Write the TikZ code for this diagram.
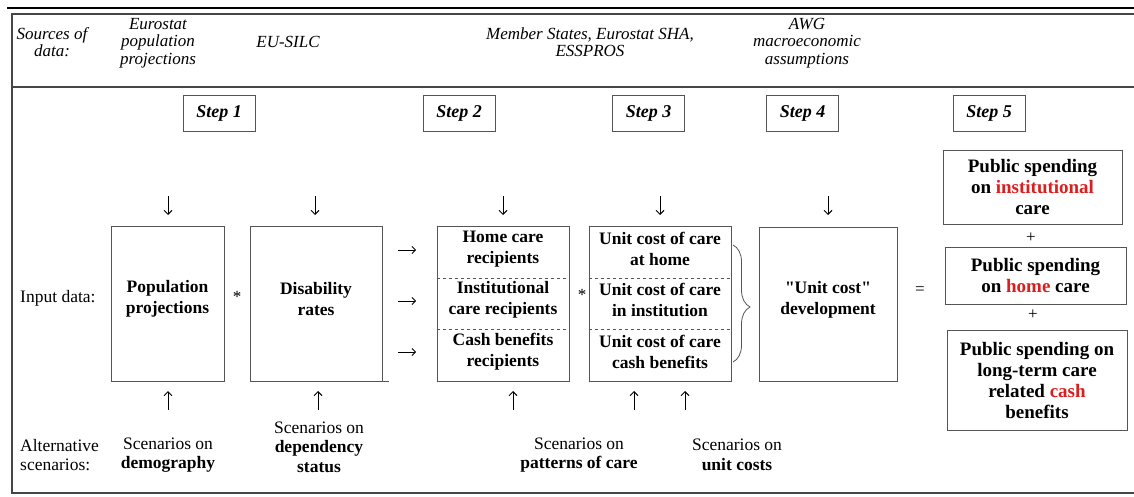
\documentclass[tikz,border=0pt]{standalone}
\usepackage{fontspec}
\setmainfont{Liberation Serif}[Ligatures=TeXOff]
\usetikzlibrary{arrows.meta,decorations.pathreplacing,calc}
\definecolor{boxgray}{RGB}{85,85,85}
\definecolor{framegray}{RGB}{70,70,70}
\definecolor{hred}{RGB}{220,30,30}
\begin{document}
\begin{tikzpicture}[x=1pt,y=-1pt,
 lbl/.style={font=\fontsize{17.5}{19.5}\selectfont, align=center, inner sep=0},
 hdr/.style={font=\fontsize{17}{17.5}\selectfont\itshape, align=center, inner sep=0},
 box/.style={draw=boxgray, line width=0.9pt, inner sep=0},
 bold/.style={font=\fontsize{17.5}{21}\selectfont\bfseries, align=center, inner sep=0},
 stepbox/.style={draw=boxgray, line width=0.9pt, minimum width=72pt, minimum height=36pt, inner sep=0, font=\fontsize{18}{20}\selectfont\bfseries\itshape},
 arr/.style={line width=0.9pt, -{Straight Barb[length=4pt,width=8pt]}},
 rarr/.style={line width=0.8pt, -{Straight Barb[length=3.5pt,width=7pt]}},
 outbox/.style={draw=boxgray, line width=0.9pt, inner sep=0, align=center, font=\fontsize{19}{21}\selectfont\bfseries},
 sym/.style={font=\fontsize{17}{18}\selectfont, inner sep=0}
]
\useasboundingbox (0,0) rectangle (1134,497);
% frame
\draw[black, line width=1.5pt] (7,8) -- (1134,8);
\draw[framegray, line width=1.2pt] (1134,14) -- (12,14) -- (12,493) -- (1134,493);
\draw[framegray, line width=1.2pt] (12,87) -- (1134,87);

% header
\node[hdr] (hsrc) at (52,42) {Sources of\\data:};
\node[hdr] (hpop) at (158,43) {Eurostat\\population\\projections};
\node[hdr] (hsilc) at (288,42) {EU-SILC};
\node[hdr] (hms) at (590,42) {Member States, Eurostat SHA,\\ESSPROS};
\node[hdr] (hawg) at (807,43) {AWG\\macroeconomic\\assumptions};

% steps
\node[stepbox] (s1) at (219,113) {Step 1};
\node[stepbox] (s2) at (459,113) {Step 2};
\node[stepbox] (s3) at (648.5,113) {Step 3};
\node[stepbox] (s4) at (802.5,113) {Step 4};
\node[stepbox] (s5) at (989,113) {Step 5};

% main boxes
\node[box, minimum width=113pt, minimum height=155pt] (pop) at (167.5,303.5) {};
\node[bold] (popt) at (167.5,299) {Population\\projections};
\node[box, minimum width=132pt, minimum height=155pt] (dis) at (316,303.5) {};
\draw[boxgray, line width=0.9pt] (dis.south east) -- ++(7,0);
\node[bold] (dist) at (316,299) {Disability\\rates};

\node[box, minimum width=132pt, minimum height=155pt] (rec) at (503,303.5) {};
\draw[boxgray, dashed, line width=0.8pt] (rec.west |- 0,278) -- (rec.east |- 0,278);
\draw[boxgray, dashed, line width=0.8pt] (rec.west |- 0,329) -- (rec.east |- 0,329);
\node[bold] (rec1) at (503,249) {Home care\\recipients};
\node[bold] (rec2) at (503,300) {Institutional\\care recipients};
\node[bold] (rec3) at (503,352) {Cash benefits\\recipients};

\node[box, minimum width=142pt, minimum height=155pt] (uc) at (660,303.5) {};
\draw[boxgray, dashed, line width=0.8pt] (uc.west |- 0,278) -- (uc.east |- 0,278);
\draw[boxgray, dashed, line width=0.8pt] (uc.west |- 0,329) -- (uc.east |- 0,329);
\node[bold] (uc1) at (660,249) {Unit cost of care\\at home};
\node[bold] (uc2) at (660,300) {Unit cost of care\\in institution};
\node[bold] (uc3) at (660,352) {Unit cost of care\\cash benefits};

\node[box, minimum width=138pt, minimum height=154pt] (ucd) at (828,304) {};
\node[bold] (ucdt) at (828,300) {"Unit cost"\\development};

% brace
\draw[boxgray, line width=0.8pt, decorate, decoration={brace, amplitude=17pt, aspect=0.53}] (733,245) -- (733,362);

% symbols
\node[sym] (star1) at (237,297) {*};
\node[sym] (star2) at (582,295) {*};
\node[sym] (eq) at (920,291) {=};
\node[sym] (plus1) at (1031,238) {+};
\node[sym] (plus2) at (1033,315) {+};

% outputs
\node[outbox, minimum width=179pt, minimum height=74pt] (o1) at (1032.5,187) {Public spending\\on \textcolor{hred}{institutional}\\care};
\node[outbox, minimum width=181pt, minimum height=57pt] (o2) at (1035.5,275.5) {Public spending\\on \textcolor{hred}{home} care};
\node[outbox, minimum width=180pt, minimum height=100pt] (o3) at (1037,380) {Public spending on\\long-term care\\related \textcolor{hred}{cash}\\benefits};

% labels
\node[lbl, anchor=west] (inp) at (20,298) {Input data:};
\node[lbl, anchor=west, align=left] (alt) at (20,455) {Alternative\\scenarios:};
\node[lbl] (sc1) at (168,455) {Scenarios on\\\textbf{demography}};
\node[lbl] (sc2) at (319,447) {Scenarios on\\\textbf{dependency}\\\textbf{status}};
\node[lbl] (sc3) at (579,455) {Scenarios on\\\textbf{patterns of care}};
\node[lbl] (sc4) at (737,455) {Scenarios on\\\textbf{unit costs}};

% down arrows
\foreach \x in {168, 315, 503, 660, 828}{
  \draw[arr] (\x,196) -- (\x,215);
}
% up arrows
\coordinate (u1) at (168,410); \coordinate (u2) at (318,410);
\coordinate (u3) at (513,410); \coordinate (u4) at (634,410); \coordinate (u5) at (685,410);
\foreach \c in {u1,u2,u3,u4,u5}{
  \draw[arr] (\c) -- ++(0,-19);
}
% right arrows
\foreach \y in {250,301,352}{
  \draw[rarr] (398,\y) -- (416,\y);
}
\end{tikzpicture}
\end{document}
